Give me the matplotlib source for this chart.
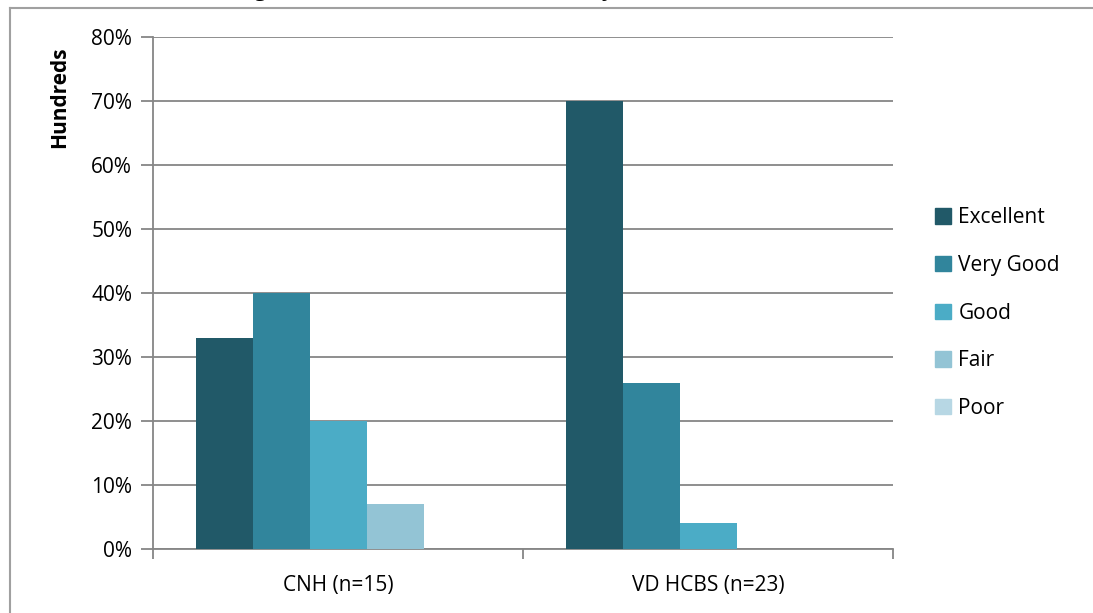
import numpy as np
import matplotlib.pyplot as plt
from matplotlib.patches import Patch
from matplotlib.lines import Line2D

categories = ['CNH (n=15)', 'VD HCBS (n=23)']
ratings = ['Excellent', 'Very Good', 'Good', 'Fair', 'Poor']
excellent = [33, 70]
very_good = [40, 26]
good = [20, 4]
fair = [7, 0]
poor = [0, 0]
series = [excellent, very_good, good, fair, poor]
colors = ['#215968', '#31859C', '#4BACC6', '#93C4D5', '#B7D7E4']
yticks = [0, 10, 20, 30, 40, 50, 60, 70, 80]

plt.rcParams['font.family'] = ['Open Sans', 'DejaVu Sans']

W, H = 1093, 613
fig = plt.figure(figsize=(W / 100, H / 100), dpi=100)

# chart border (partially cropped in original)
fig.add_artist(Line2D([10 / W, 10 / W], [0, 1 - 8 / H], color='#A0A0A0', lw=1.5))
fig.add_artist(Line2D([10 / W, 1], [1 - 8 / H, 1 - 8 / H], color='#A0A0A0', lw=1.5))

# title cut off at the top edge, only descenders visible
fig.text(410 / W, 1 + 4 / H, 'Rating of Overall Care Received (Quality)',
         ha='center', va='baseline', fontsize=15, fontweight='bold')

ax = fig.add_axes([153 / W, 1 - 549 / H, (893 - 153) / W, (549 - 37) / H])

x = np.arange(len(categories))
bw = 57 / 370
for i, (vals, c) in enumerate(zip(series, colors)):
    ax.bar(x + (i - 2) * bw, vals, width=bw, color=c, label=ratings[i], zorder=3)

ax.set_xlim(-0.5, 1.5)
ax.set_ylim(0, 80)
ax.set_yticks(yticks)
ax.set_yticklabels([f'{t}%' for t in yticks], fontsize=15)
ax.yaxis.grid(True, color='#868686', lw=1.3, zorder=0)
ax.tick_params(axis='y', length=9, width=1.3, color='#868686', pad=6)

ax.set_xticks([-0.5, 0.5, 1.5])
ax.set_xticklabels([])
ax.set_xticks(x, minor=True)
ax.set_xticklabels(categories, minor=True, fontsize=15)
ax.tick_params(axis='x', which='major', length=7, width=1.3, color='#868686')
ax.tick_params(axis='x', which='minor', length=0, pad=19)

for s in ['top', 'right']:
    ax.spines[s].set_visible(False)
for s in ['left', 'bottom']:
    ax.spines[s].set_color('#868686')
    ax.spines[s].set_linewidth(1.3)

fig.text(60 / W, 1 - 97 / H, 'Hundreds', rotation=90, ha='center', va='center',
         fontsize=15, fontweight='bold')

handles = [Patch(color=c, label=r) for c, r in zip(colors, ratings)]
fig.legend(handles=handles, loc='upper left', bbox_to_anchor=(927 / W, 1 - 199 / H),
           frameon=False, fontsize=15, handlelength=0.75, handleheight=0.75,
           handletextpad=0.35, labelspacing=1.28, borderaxespad=0)

fig.savefig('out.png', dpi=100)
